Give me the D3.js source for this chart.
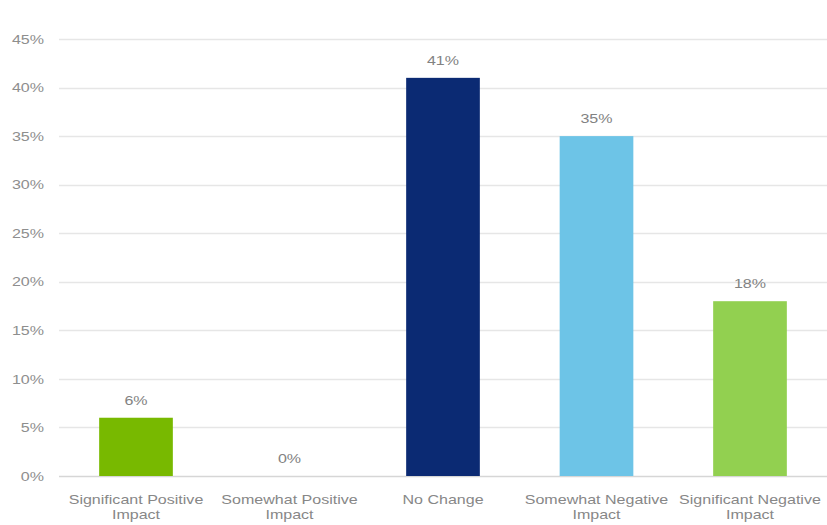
<!DOCTYPE html>
<html>
<head>
<meta charset="utf-8">
<script src="https://cdn.jsdelivr.net/npm/d3@7"></script>
<style>
  html, body { margin: 0; padding: 0; background: #fff; }
  svg text { font-family: "Liberation Sans", Arial, sans-serif; }
</style>
</head>
<body>
<svg id="chart" width="827" height="525"></svg>
<script>
// Survey responses: share of respondents per impact category
const categories = [
  ["Significant Positive", "Impact"],
  ["Somewhat Positive", "Impact"],
  ["No Change"],
  ["Somewhat Negative", "Impact"],
  ["Significant Negative", "Impact"]
];
const values = [6, 0, 41, 35, 18];
const barColors = ["#78b900", "#78b900", "#0b2a73", "#6dc4e7", "#92d050"];
const yTicks = [0, 5, 10, 15, 20, 25, 30, 35, 40, 45];

const svg = d3.select("#chart");
const width = 827;
const plot = { left: 59.25, right: 826.75, top: 39, bottom: 476 };
const fontSize = 13;
const stretch = 1.235;   // labels use a horizontally widened face

const x = d3.scaleBand()
  .domain(d3.range(categories.length))
  .range([plot.left, plot.right])
  .paddingInner(0.52)
  .paddingOuter(0.26);

const y = d3.scaleLinear()
  .domain([0, 45])
  .range([plot.bottom, plot.top]);

// Gridlines and y tick labels
const yAxis = svg.append("g");
yAxis.selectAll("line.grid")
  .data(yTicks)
  .join("line")
  .attr("class", "grid")
  .attr("x1", 59).attr("x2", width)
  .attr("y1", d => Math.round(y(d)) + 0.5)
  .attr("y2", d => Math.round(y(d)) + 0.5)
  .attr("stroke", d => d === 0 ? "#d6d6d6" : "#e6e6e6")
  .attr("stroke-width", 1.3);

yAxis.selectAll("text")
  .data(yTicks)
  .join("text")
  .attr("transform", d => `translate(44,${y(d)}) scale(${stretch},1)`)
  .attr("dy", "0.36em")
  .attr("text-anchor", "end")
  .attr("font-size", fontSize)
  .attr("fill", "#8e8e8e")
  .text(d => d + "%");

// Bars
svg.append("g").selectAll("rect")
  .data(values)
  .join("rect")
  .attr("x", (d, i) => x(i))
  .attr("width", x.bandwidth())
  .attr("y", d => y(d))
  .attr("height", d => y(0) - y(d))
  .attr("fill", (d, i) => barColors[i]);

// Value labels above bars
svg.append("g").selectAll("text")
  .data(values)
  .join("text")
  .attr("transform", (d, i) =>
    `translate(${x(i) + x.bandwidth() / 2},${y(d) - 13}) scale(${stretch},1)`)
  .attr("text-anchor", "middle")
  .attr("font-size", fontSize)
  .attr("fill", "#828282")
  .text(d => d + "%");

// Category labels (wrapped onto two lines)
const cat = svg.append("g").selectAll("text")
  .data(categories)
  .join("text")
  .attr("transform", (d, i) =>
    `translate(${x(i) + x.bandwidth() / 2},${y(0) + 28}) scale(${stretch},1)`)
  .attr("text-anchor", "middle")
  .attr("font-size", fontSize)
  .attr("fill", "#878787");
cat.selectAll("tspan")
  .data(d => d)
  .join("tspan")
  .attr("x", 0)
  .attr("dy", (d, i) => i === 0 ? 0 : 15.5)
  .text(d => d);
</script>
</body>
</html>
